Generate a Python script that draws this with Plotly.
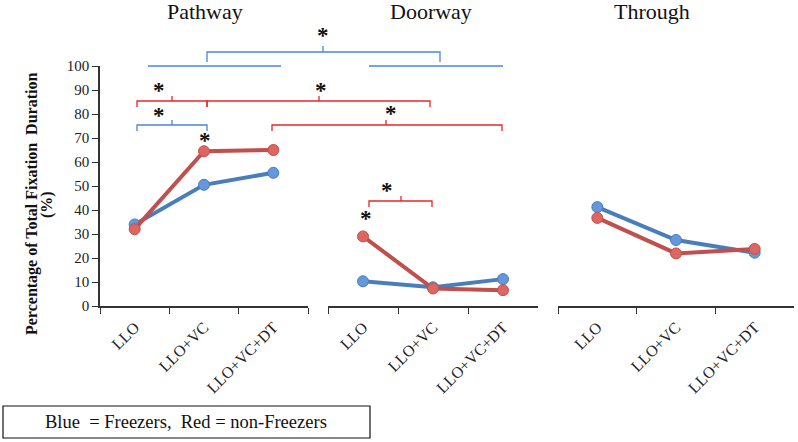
import plotly.graph_objects as go

# conditions on each panel
conditions = ["LLO", "LLO+VC", "LLO+VC+DT"]
panels = ["Pathway", "Doorway", "Through"]

# percentage of total fixation duration
freezers = {
    "Pathway": [34, 50.5, 55.5],
    "Doorway": [10.3, 7.8, 11.2],
    "Through": [41.2, 27.5, 22.2],
}
non_freezers = {
    "Pathway": [32, 64.5, 65],
    "Doorway": [29, 7.3, 6.6],
    "Through": [36.7, 21.9, 23.8],
}

serif = "Liberation Serif, Times New Roman, serif"
blue_line, blue_dot = "#4a7ebb", "#6597dc"
red_line, red_dot = "#c0504d", "#dd6663"
bracket_blue, bracket_red = "#4a86d8", "#e8262a"

W, H = 798, 442
L, R, T, B = 100, 4, 66, 136
pw, ph = W - L - R, H - T - B

# panel extents in pixels
panel_px = [(100, 308), (328, 538), (558, W - R)]
domains = [[(a - L) / pw, (b - L) / pw] for a, b in panel_px]


def px_x(p):
    return (p - L) / pw


def px_y(p):
    return (H - B - p) / ph


fig = go.Figure()
axes = ["x", "x2", "x3"]
for i, name in enumerate(panels):
    fig.add_trace(go.Scatter(x=conditions, y=freezers[name], xaxis=axes[i], yaxis="y",
                             mode="lines+markers", line=dict(color=blue_line, width=4),
                             marker=dict(size=11, color=blue_dot, line=dict(color=blue_line, width=1)),
                             showlegend=False))
    fig.add_trace(go.Scatter(x=conditions, y=non_freezers[name], xaxis=axes[i], yaxis="y",
                             mode="lines+markers", line=dict(color=red_line, width=4),
                             marker=dict(size=11, color=red_dot, line=dict(color=red_line, width=1)),
                             showlegend=False))

xcommon = dict(type="category", categoryorder="array", categoryarray=conditions,
               range=[-0.5, 2.5], tickson="boundaries", ticks="outside", ticklen=6,
               tickcolor="#333", showline=True, linecolor="#333", linewidth=1.5,
               showgrid=False, zeroline=False, tickangle=-45, ticklabelstandoff=4,
               tickfont=dict(family=serif, size=16, color="#222"), anchor="y")

fig.update_layout(
    width=W, height=H,
    margin=dict(l=L, r=R, t=T, b=B),
    plot_bgcolor="white", paper_bgcolor="white",
    xaxis=dict(domain=domains[0], **xcommon),
    xaxis2=dict(domain=domains[1], **xcommon),
    xaxis3=dict(domain=domains[2], **xcommon),
    yaxis=dict(range=[0, 100], dtick=10, ticks="outside", ticklen=6, tickcolor="#333",
               showline=True, linecolor="#333", linewidth=1.5, showgrid=False, zeroline=False,
               tickfont=dict(family=serif, size=15, color="#222"), anchor="x"),
)

annotations = []
shapes = []


def note(text, x, y, size, angle=0):
    annotations.append(dict(text=text, x=px_x(x), y=px_y(y), xref="paper", yref="paper",
                            xanchor="center", yanchor="middle", textangle=angle,
                            showarrow=False, font=dict(family=serif, size=size, color="#111")))


# panel titles
for name, xp in zip(panels, [205, 431, 652]):
    note(name, xp, 12, 22)

# y axis title, two lines set close together
note("<b>Percentage of Total Fixation  Duration</b>", 32, 204, 16, -90)
note("<b>(%)</b>", 47, 205, 16, -90)


def bracket(x0, x1, xm, yb, color, drop=6, rise=5):
    # horizontal bar at yb with ends dropping and a small tick rising at xm
    shapes.append(dict(type="path", xref="paper", yref="paper",
                       path=(f"M {px_x(x0)},{px_y(yb + drop)} L {px_x(x0)},{px_y(yb)} "
                             f"L {px_x(x1)},{px_y(yb)} L {px_x(x1)},{px_y(yb + drop)}"),
                       line=dict(color=color, width=1.3)))
    shapes.append(dict(type="line", xref="paper", yref="paper", x0=px_x(xm), x1=px_x(xm),
                       y0=px_y(yb), y1=px_y(yb - rise), line=dict(color=color, width=1.3)))


def star(x, y):
    note("<b>*</b>", x, y + 3.5, 23)


# blue bracket between Pathway and Doorway
bracket(207, 440, 323, 52, bracket_blue, drop=10, rise=6)
for a, b in [(148, 281), (369, 503)]:
    shapes.append(dict(type="line", xref="paper", yref="paper", x0=px_x(a), x1=px_x(b),
                       y0=px_y(66), y1=px_y(66), line=dict(color=bracket_blue, width=1.3)))
star(323, 32)

# red brackets
bracket(137, 207, 172, 101, bracket_red)
bracket(207, 430, 319, 101, bracket_red)
star(159, 87)
star(321, 87)

bracket(137, 207, 172, 125, bracket_blue)
star(159, 112)

bracket(272, 502, 386, 125, bracket_red)
star(391, 110)

star(205, 137)

bracket(369, 432, 401, 201, bracket_red)
star(387, 187)
star(366, 215)

# legend box
shapes.append(dict(type="rect", xref="paper", yref="paper", x0=px_x(3), x1=px_x(370),
                   y0=px_y(406), y1=px_y(438), line=dict(color="#111", width=1.2)))
note("Blue  = Freezers,  Red = non-Freezers", 186, 422, 18.5)

fig.update_layout(annotations=annotations, shapes=shapes)
fig.write_html("out.html", config={"displayModeBar": False},
               post_script="document.body.style.margin='0';")
